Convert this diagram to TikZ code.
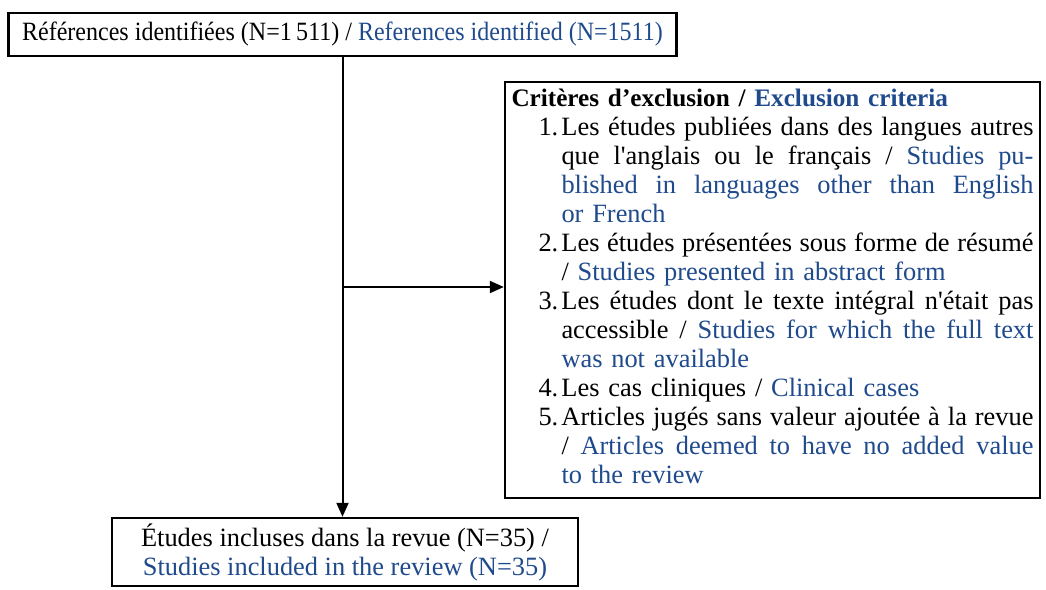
\documentclass[tikz,border=0pt]{standalone}
\usepackage{fontspec}
\setmainfont{Liberation Serif}
\newfontfamily\narrowfont{Liberation Serif}[FakeStretch=0.91]
\usepackage{xcolor}
\usetikzlibrary{arrows.meta}
\definecolor{engblue}{RGB}{31,74,140}
\newcommand{\en}[1]{\textcolor{engblue}{#1}}
\newcommand{\jl}[1]{\hbox to 236pt{\spaceskip=\fontdimen2\font plus 2\fontdimen2\font\relax #1}}
\newcommand{\itm}[1]{\hspace*{13.5pt}\makebox[11.5pt][l]{#1}}
\newcommand{\ind}{\hspace*{25pt}}

\begin{document}
\begin{tikzpicture}[x=0.5pt,y=-0.5pt,
    font=\fontsize{13.2}{14.5}\selectfont,
    box/.style={draw,line width=1.2pt,inner sep=0pt},
    link/.style={line width=1pt,-{Triangle[length=7pt,width=6pt]}}]
    \useasboundingbox (0,0) rectangle (1046,590);
    \node[box,minimum width=334pt,minimum height=21.5pt] (refs) at (342.5,34.5)
        {\narrowfont Références identifiées (N=1\,511) / \en{References identified (N=1511)}};
    \node[box,minimum width=267.5pt,minimum height=208pt,inner xsep=3.25pt,
        text width=261pt,align=left] (crit) at (772.5,290) {%
        {\fontsize{12.6}{14.5}\selectfont\textbf{Critères d’exclusion / \en{Exclusion criteria}}}\\
        \itm{1.}\jl{Les études publiées dans des langues autres}\\
        \ind\jl{que l\textquotesingle anglais ou le français / \en{Studies pu-}}\\
        \ind\jl{\en{blished in languages other than English}}\\
        \ind\en{or French}\\
        \itm{2.}\jl{Les études présentées sous forme de résumé}\\
        \ind/ \en{Studies presented in abstract form}\\
        \itm{3.}\jl{Les études dont le texte intégral n\textquotesingle était pas}\\
        \ind\jl{accessible / \en{Studies for which the full text}}\\
        \ind\en{was not available}\\
        \itm{4.}Les cas cliniques / \en{Clinical cases}\\
        \itm{5.}\jl{Articles jugés sans valeur ajoutée à la revue}\\
        \ind\jl{/ \en{Articles deemed to have no added value}}\\
        \ind\en{to the review}\vspace{4pt}};
    \node[box,minimum width=233pt,minimum height=34pt,align=center] (incl) at (345,552)
        {Études incluses dans la revue (N=35) /\\ \en{Studies included in the review (N=35)}};
    \coordinate (split) at (342.5,287);
    \draw[link] (refs.south) -- (refs.south |- incl.north);
    \draw[link] (split) -- (split -| crit.west);
\end{tikzpicture}
\end{document}
